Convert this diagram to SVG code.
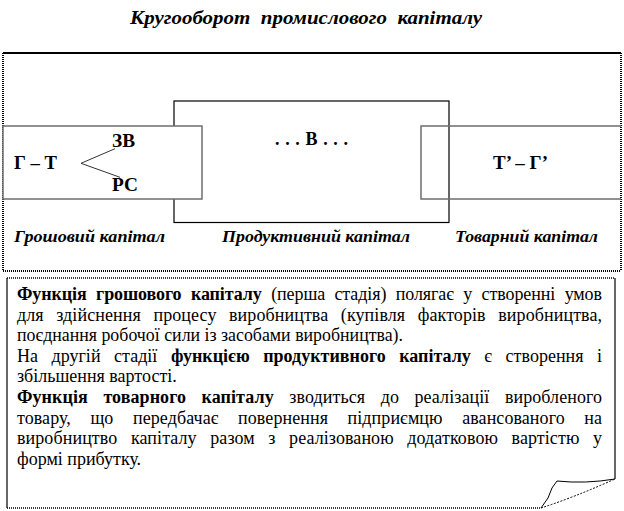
<svg xmlns="http://www.w3.org/2000/svg" width="624" height="511" viewBox="0 0 624 511">
<style>
  text { font-family: "Liberation Serif", "Times New Roman", serif; fill: #000; }
  .title { font-size: 19px; font-weight: bold; font-style: italic; white-space: pre; }
  .lbl { font-size: 16px; font-weight: bold; font-style: italic; }
  .node { font-size: 18px; font-weight: bold; }
  .body { font-size: 18px; }
  .b { font-weight: bold; }
  .dot { fill: none; stroke: #000; stroke-width: 2; stroke-dasharray: 1 1; }
  .solid { fill: none; stroke: #000; stroke-width: 2; }
  .gbox { fill: #fff; stroke: #6e6e6e; stroke-width: 1.5; }
  .gline { fill: none; stroke: #6e6e6e; stroke-width: 1.5; }
  .mbox { fill: none; stroke: #000; stroke-width: 1.2; }
  .conn { fill: none; stroke: #333; stroke-width: 1; }
  .edge { fill: none; stroke: #000; stroke-width: 1.2; }
</style>

<text class="title" x="130" y="24" textLength="352" lengthAdjust="spacingAndGlyphs">Кругооборот  промислового  капіталу</text>

<g id="frame">
  <line class="solid" x1="3" y1="53" x2="621" y2="53"/>
  <line class="dot" x1="3" y1="53" x2="3" y2="271"/>
  <line class="dot" x1="621" y1="53" x2="621" y2="271"/>
  <line class="dot" x1="3" y1="271" x2="621" y2="271"/>
</g>

<g id="productive">
  <rect class="mbox" x="174" y="101" width="275" height="121.5"/>
  <text class="node" x="275" y="145" textLength="73" lengthAdjust="spacing">. . . В . . .</text>
</g>

<g id="money">
  <rect class="gbox" x="3" y="126" width="199" height="73"/>
  <text class="node" x="14" y="169" textLength="43" lengthAdjust="spacingAndGlyphs">Г – Т</text>
  <text class="node" x="112" y="147" textLength="23" lengthAdjust="spacingAndGlyphs">ЗВ</text>
  <text class="node" x="112" y="190.5" textLength="26" lengthAdjust="spacingAndGlyphs">РС</text>
</g>

<g id="commodity">
  <path class="gline" d="M621,126 H421 V199 H621"/>
  <text class="node" x="493" y="168.5" textLength="55" lengthAdjust="spacingAndGlyphs">Т’ – Г’</text>
</g>

<g id="connectors">
  <line class="conn" x1="81" y1="163.3" x2="115" y2="148.7"/>
  <line class="conn" x1="81" y1="163.3" x2="120" y2="177.3"/>
</g>

<g id="labels">
  <text class="lbl" x="14" y="242" textLength="151" lengthAdjust="spacingAndGlyphs">Грошовий капітал</text>
  <text class="lbl" x="222" y="242" textLength="188" lengthAdjust="spacingAndGlyphs">Продуктивний капітал</text>
  <text class="lbl" x="455" y="242" textLength="143" lengthAdjust="spacingAndGlyphs">Товарний капітал</text>
</g>

<g id="note">
  <line class="dot" x1="7" y1="278" x2="615" y2="278" style="stroke-width:1.5"/>
  <line class="edge" x1="615" y1="278" x2="615" y2="479"/>
  <line class="edge" x1="7" y1="278" x2="7" y2="508"/>
  <line class="dot" x1="7" y1="508" x2="541" y2="508" style="stroke-width:1.5"/>
  <path d="M541,508 L548,498 L552,488 L557,481 Q585,484 615,479" fill="none" stroke="#000" stroke-width="1"/>
  <path d="M541,508 Q575,497 615,479" fill="none" stroke="#000" stroke-width="1" stroke-dasharray="2 1.5"/>
  <text class="body" x="17" y="300" word-spacing="5" textLength="585" lengthAdjust="spacing"><tspan class="b">Функція грошового капіталу</tspan> (перша стадія) полягає у створенні умов</text>
  <text class="body" x="17" y="320.6" word-spacing="8" textLength="585" lengthAdjust="spacing">для здійснення процесу виробництва (купівля факторів виробництва,</text>
  <text class="body" x="17" y="341.2" textLength="386" lengthAdjust="spacingAndGlyphs">поєднання робочої сили із засобами виробництва).</text>
  <text class="body" x="17" y="361.8" word-spacing="9" textLength="585" lengthAdjust="spacing">На другій стадії <tspan class="b">функцією продуктивного капіталу</tspan> є створення і</text>
  <text class="body" x="17" y="382.4">збільшення вартості.</text>
  <text class="body" x="17" y="403" word-spacing="11" textLength="585" lengthAdjust="spacing"><tspan class="b">Функція товарного капіталу</tspan> зводиться до реалізації виробленого</text>
  <text class="body" x="17" y="423.6" word-spacing="15" textLength="585" lengthAdjust="spacing">товару, що передбачає повернення підприємцю авансованого на</text>
  <text class="body" x="17" y="444.2" word-spacing="9" textLength="585" lengthAdjust="spacing">виробництво капіталу разом з реалізованою додатковою вартістю у</text>
  <text class="body" x="17" y="464.8">формі прибутку.</text>
</g>
</svg>
